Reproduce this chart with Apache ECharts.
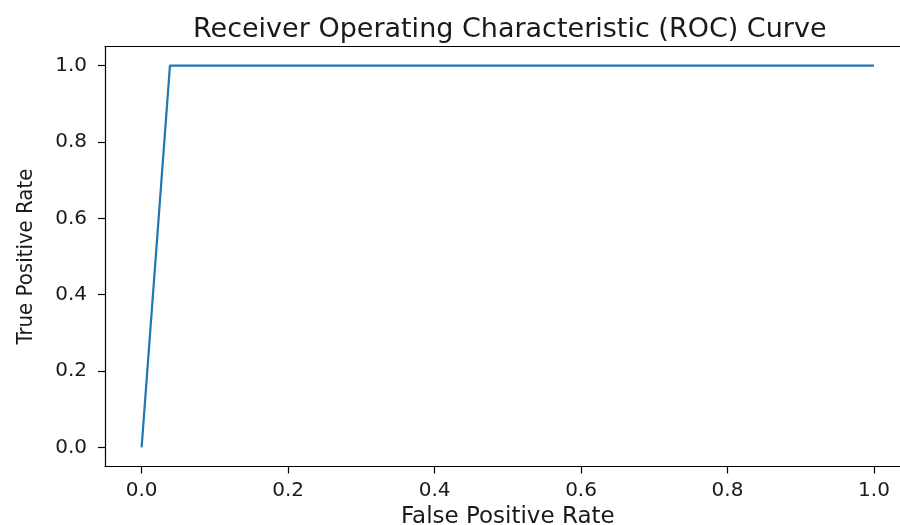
<!DOCTYPE html>
<html>
<head>
<meta charset="utf-8">
<script src="https://cdn.jsdelivr.net/npm/echarts@6/dist/echarts.min.js"></script>
<style>
html,body{margin:0;padding:0;background:#fff;}
#chart{width:900px;height:525px;}
</style>
</head>
<body>
<div id="chart"></div>
<script>
const titleText = 'Receiver Operating Characteristic (ROC) Curve';
const xName = 'False Positive Rate';
const yName = 'True Positive Rate';
const fpr = [0, 0.0387, 1];
const tpr = [0, 1, 1];
const tickValues = [0, 0.2, 0.4, 0.6, 0.8, 1.0];

const chart = echarts.init(document.getElementById('chart'));
const txt = '#1a1a1a';
const axisCommon = {
  type: 'value',
  min: -0.05,
  max: 1.05,
  splitLine: {show: false},
  axisLine: {show: true, onZero: false, lineStyle: {color: '#000', width: 1.2}},
  axisTick: {show: true, inside: false, length: 7, lineStyle: {color: '#000', width: 1.2}, customValues: tickValues},
  axisLabel: {color: txt, fontFamily: 'DejaVu Sans', fontSize: 20, customValues: tickValues,
    formatter: v => v.toFixed(1)},
  nameLocation: 'middle'
};
chart.setOption({
  animation: false,
  title: {
    text: titleText, left: 188, top: 11,
    textStyle: {fontFamily: 'DejaVu Sans', fontSize: 27, fontWeight: 'normal', color: txt}
  },
  grid: {left: 105, right: -10.6, top: 46.5, bottom: 58.5, show: false,
    containLabel: false, outerBoundsMode: 'none'},
  xAxis: [
    Object.assign({}, axisCommon, {
      name: xName, nameGap: 33,
      nameTextStyle: {fontFamily: 'DejaVu Sans', fontSize: 23, color: txt},
      axisLabel: Object.assign({}, axisCommon.axisLabel, {margin: 14})
    }),
    {
      type: 'value', position: 'top', min: -0.05, max: 1.05,
      splitLine: {show: false}, axisTick: {show: false}, axisLabel: {show: false},
      axisLine: {show: true, onZero: false, lineStyle: {color: '#000', width: 1.2}}
    }
  ],
  yAxis: Object.assign({}, axisCommon, {
    name: yName, nameGap: 68,
    nameTextStyle: {fontFamily: '"DejaVu Sans Condensed", "Liberation Sans Narrow", "DejaVu Sans"', fontSize: 22, color: txt},
    axisLabel: Object.assign({}, axisCommon.axisLabel, {margin: 18})
  }),
  series: [{
    type: 'line',
    xAxisIndex: 0,
    data: fpr.map((x, i) => [x, tpr[i]]),
    showSymbol: false,
    lineStyle: {color: '#1f77b4', width: 2.2},
    clip: false
  }]
});
</script>
</body>
</html>
